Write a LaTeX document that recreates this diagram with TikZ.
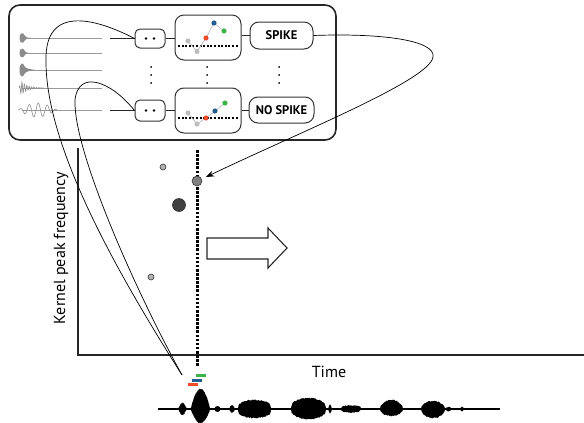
\documentclass[tikz,border=0pt]{standalone}
\usepackage{fontspec}
\setmainfont{PT Sans}
\usetikzlibrary{arrows.meta}

\definecolor{ptred}{HTML}{EF4B2B}
\definecolor{ptblue}{HTML}{1F5E8E}
\definecolor{ptgreen}{HTML}{3BB54A}
\definecolor{ptgray}{HTML}{BDBDBD}

% filled envelope of a sound burst on the base line y=409
\newcommand\burst[5]{%
  \fill[black] plot[domain=#1:#2,samples=45,variable=\t]
    (\t,{409-#3*(abs(sin((\t-#1)/(#2-#1)*180))+0.001)^#5-0.6*rand})
  -- plot[domain=#2:#1,samples=45,variable=\t]
    (\t,{409+#4*(abs(sin((\t-#1)/(#2-#1)*180))+0.001)^#5+0.6*rand}) -- cycle;}

% small decaying spike drawn at the start of a channel trace
\newcommand\spikeicon[3]{%
  \fill[black!45] (19.5,#1) .. controls (19.3,#1-#2) and (23.5,#1-1.1*#2) .. (24.5,#1-0.5*#2)
    .. controls (25.5,#1-0.15*#2) and (#3-4,#1-0.06*#2) .. (#3,#1)
    .. controls (#3-4,#1+0.06*#2) and (25.5,#1+0.15*#2) .. (24.5,#1+0.5*#2)
    .. controls (23.5,#1+1.1*#2) and (19.3,#1+#2) .. (19.5,#1) -- cycle;}

\begin{document}
\begin{tikzpicture}[x=1pt,y=-1pt,
  frame/.style={draw=black!85,line width=1.6pt,rounded corners=11pt},
  smallbox/.style={draw=black!80,line width=1pt,rounded corners=5pt,
    minimum width=30pt,inner sep=0pt},
  midbox/.style={draw=black!80,line width=1pt,rounded corners=9pt,
    minimum width=66pt,minimum height=45pt,inner sep=0pt},
  labelbox/.style={draw=black!80,line width=1pt,rounded corners=9pt,
    minimum height=27pt,inner sep=0pt,
    font=\bfseries\fontsize{12.5}{13}\selectfont},
  link/.style={line width=1pt,draw=black!85},
  trace/.style={draw=black!40,line width=0.9pt},
  tube/.style={draw=black,line width=0.7pt},
  dotrow/.style={line width=2pt,dash pattern=on 2pt off 1.6pt},
  dot/.style={circle,draw=black!80,line width=0.6pt,inner sep=0pt},
  axis/.style={line width=1.6pt,draw=black!85},
  lbl/.style={font=\fontsize{16}{18}\selectfont}
]
\useasboundingbox (0,0) rectangle (584,423);

% ---------- classifier panel ----------
\draw[frame] (9,5) rectangle (336,140);

% channel traces
\foreach \yy in {38,53,70,88,110} \draw[trace] (22,\yy) -- (102,\yy);
\spikeicon{38}{5.5}{31}
\spikeicon{53}{5}{30}
\spikeicon{70}{7.5}{36}
\draw[black!45,line width=0.6pt] plot[domain=19:44,samples=160]
  (\x,{88-6*min(1,(\x-19)/2)*exp(-max(0,\x-22)/6)*sin((\x-19)*150)});
\draw[black!45,line width=0.6pt] plot[domain=18:57,samples=160]
  (\x,{110-7*sin((\x-18)*180/39)*sin((\x-18)*40)});

% processing chain
\node[smallbox,minimum height=19pt] (dd1) at (150,38.5) {};
\node[smallbox,minimum height=21pt] (dd2) at (150,110.5) {};
\node[midbox] (mb1) at (208,37.5) {};
\node[midbox] (mb2) at (208,110.5) {};
\node[labelbox,minimum width=63pt] (sp1) at (281.5,35.5) {SPIKE};
\node[labelbox,minimum width=65pt,minimum height=26pt] (sp2) at (281.5,110) {NO SPIKE};

\coordinate (in1) at (110,38.5);
\coordinate (in2) at (110,110.5);
\draw[link] (in1) -- (dd1.west);
\draw[link] (in2) -- (dd2.west);
\draw[link] (dd1.east) -- (mb1.west |- dd1.east);
\draw[link] (dd2.east) -- (mb2.west |- dd2.east);
\draw[link] (mb1.east |- sp1.west) -- (sp1.west);
\draw[link] (mb2.east |- sp2.west) -- (sp2.west);

% two dots inside the small boxes
\foreach \n in {dd1,dd2} {
  \fill ([xshift=-4pt]\n.center) circle (1.4);
  \fill ([xshift=4pt]\n.center) circle (1.4);
}

% vertical ellipses
\foreach \xx in {151,207,279} \foreach \yy in {67,75,83} \fill (\xx,\yy) circle (1);

% kernel plots inside the middle boxes
\begin{scope}[shift={(mb1.center)}]
  \draw[dotrow] (-30,8) -- (30,8);
  \draw[ptgray,line width=0.7pt] (-20,3.5) -- (-11,14) -- (-2,0.5) -- (6,-14.5) -- (16,-6.5);
  \fill[ptgray] (-20,3.5) circle (2.6) (-11,14) circle (2.6);
  \fill[ptred] (-2,0.5) circle (2.6);
  \fill[ptblue] (6,-14.5) circle (2.6);
  \fill[ptgreen] (16,-6.5) circle (2.6);
\end{scope}
\begin{scope}[shift={(mb2.center)}]
  \draw[dotrow] (-30,7.5) -- (30,7.5);
  \draw[ptgray,line width=0.7pt] (-20,2.5) -- (-11,13.5) -- (-2,7.5) -- (7,0.5) -- (17,-7.5);
  \fill[ptgray] (-20,2.5) circle (2.6) (-11,13.5) circle (2.6);
  \fill[ptred] (-2,7.5) circle (2.6);
  \fill[ptblue] (7,0.5) circle (2.6);
  \fill[ptgreen] (17,-7.5) circle (2.6);
\end{scope}

% ---------- feature plot ----------
\draw[axis] (78,148) -- (78,355) -- (584,355);
\node[lbl,rotate=90] (ylab) at (61,248) {Kernel peak frequency};
\node[lbl] (xlab) at (329,372) {Time};

\draw[line width=3pt,dash pattern=on 2.6pt off 1.5pt] (197,150) -- (197,367);

\node[dot,minimum size=6pt,fill=black!30] (p1) at (163,167) {};
\node[dot,minimum size=10pt,fill=black!50] (pk) at (197,181) {};
\node[dot,minimum size=13pt,fill=black!75] (p3) at (179,205) {};
\node[dot,minimum size=6pt,fill=black!30] (p4) at (151,277) {};

% time-shift arrow
\draw[line width=1.1pt,draw=black!85,fill=white]
  (207,238) -- (268,238) -- (268,228) -- (287,248) -- (268,268) -- (268,259) -- (207,259) -- cycle;

% ---------- sound trace ----------
\draw[line width=1.5pt] (158,409) -- (500,409);
\pgfmathsetseed{7}
\burst{178}{187}{6}{6}{1.2}
\burst{191}{210}{20}{14}{0.8}
\fill (217.5,409) circle (3);
\burst{229}{235}{3.5}{3.5}{1}
\burst{238}{271}{9}{9}{0.3}
\burst{291}{326}{11}{10}{0.35}
\burst{328}{332}{4}{4}{1}
\burst{341}{361}{3.5}{3.5}{0.3}
\burst{380}{403}{9}{7}{0.5}
\burst{421}{445}{8}{9}{0.5}
\burst{445}{452}{2}{2}{1}
\burst{460}{464}{2}{2}{1}

% kernel positions above the trace
\fill[ptred] (188,383) rectangle (198,386);
\fill[ptblue] (192,378.5) rectangle (202,381.5);
\fill[ptgreen] (196,374) rectangle (206,377);

% ---------- connectors ----------
\coordinate (burstA) at (182,375);
\coordinate (hit) at (206,177);
\draw[tube] (dd1.west) .. controls (95,18) and (45,5) .. (46,60)
  .. controls (45,150) and (125,285) .. (burstA);
\draw[tube] (dd2.west) .. controls (110,80) and (78,70) .. (75,100)
  .. controls (73,150) and (135,290) .. (burstA);
\draw[tube,-{Stealth[length=8pt,width=6pt]}] (sp1.east)
  .. controls (380,33) and (436,40) .. (433,57)
  .. controls (430,80) and (300,132) .. (hit);
\end{tikzpicture}
\end{document}
